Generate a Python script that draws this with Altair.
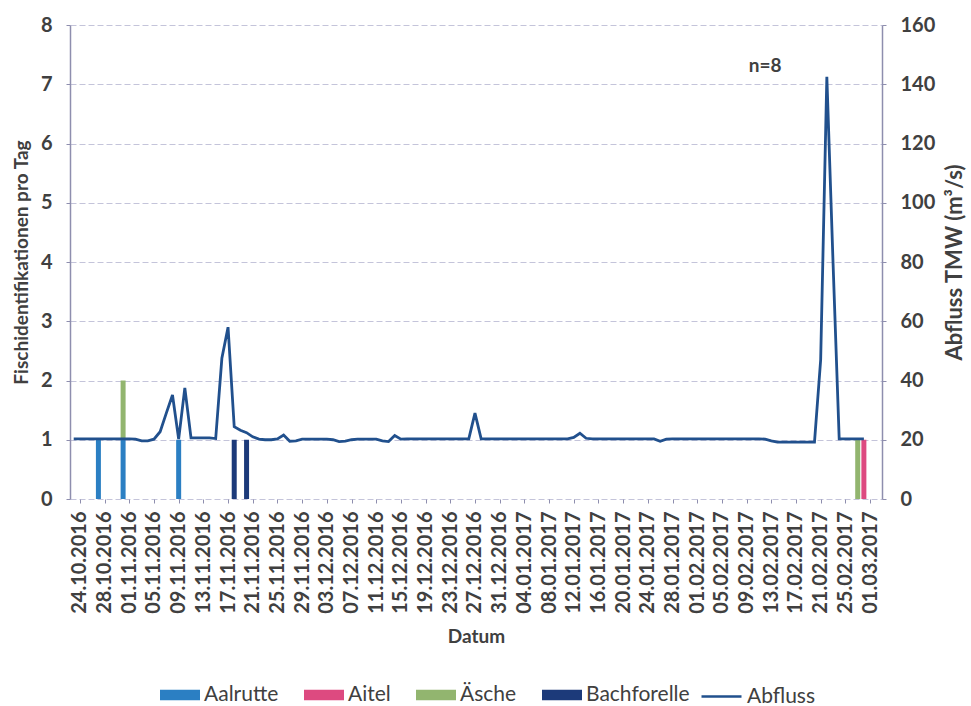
from datetime import date, datetime, timedelta, timezone

import altair as alt
import pandas as pd

FONT = "Lato"
TEXT = "#404040"
AXIS_COLOR = "#8e8eae"
GRID_COLOR = "#c4c4da"

# Fish identifications per day and species
fish_dates = ["2016-10-27", "2016-10-31", "2016-10-31", "2016-11-09",
              "2016-11-18", "2016-11-20", "2017-02-27", "2017-02-28"]
fish_species = ["Aalrutte", "Aalrutte", "Äsche", "Aalrutte",
                "Bachforelle", "Bachforelle", "Äsche", "Aitel"]
fish_counts = [1, 1, 1, 1, 1, 1, 1, 1]

species_order = ["Aalrutte", "Aitel", "Äsche", "Bachforelle"]
species_colors = ["#2b7fc3", "#dd4a80", "#92b56f", "#1c3a7a"]

# Daily mean discharge (m³/s), 23.10.2016 - 28.02.2017
flow_start = date(2016, 10, 23)
flow_values = [
    # Oct 23-31
    20.3, 20.3, 20.3, 20.3, 20.3, 20.3, 20.3, 20.3, 20.3,
    # Nov
    20.3, 20.2, 19.6, 19.6, 20.2, 22.7, 29.0, 35.1, 20.2, 37.5,
    20.6, 20.6, 20.6, 20.6, 20.4, 47.5, 58.0, 24.4, 23.2, 22.4,
    21.0, 20.2, 20.0, 20.0, 20.3, 21.6, 19.5, 19.6, 20.2, 20.2,
    # Dec
    20.2, 20.2, 20.2, 20.0, 19.4, 19.5, 20.0, 20.2, 20.2, 20.2,
    20.2, 19.6, 19.4, 21.4, 20.2, 20.3, 20.3, 20.3, 20.3, 20.3,
    20.3, 20.3, 20.3, 20.3, 20.3, 20.3, 29.0, 20.3, 20.3, 20.3, 20.3,
    # Jan
    20.3, 20.3, 20.3, 20.3, 20.3, 20.3, 20.3, 20.3, 20.3, 20.3,
    20.3, 20.8, 22.2, 20.5, 20.3, 20.3, 20.3, 20.3, 20.3, 20.3,
    20.3, 20.3, 20.3, 20.3, 20.3, 19.5, 20.2, 20.3, 20.3, 20.3, 20.3,
    # Feb
    20.3, 20.3, 20.3, 20.3, 20.3, 20.3, 20.3, 20.3, 20.3, 20.3,
    20.3, 20.2, 19.6, 19.2, 19.2, 19.2, 19.2, 19.2, 19.2, 19.2,
    47.0, 142.5, 80.0, 20.3, 20.3, 20.3, 20.3, 20.3,
]
flow_color = "#21508d"

x_tick_labels = [
    "24.10.2016", "28.10.2016", "01.11.2016", "05.11.2016", "09.11.2016",
    "13.11.2016", "17.11.2016", "21.11.2016", "25.11.2016", "29.11.2016",
    "03.12.2016", "07.12.2016", "11.12.2016", "15.12.2016", "19.12.2016",
    "23.12.2016", "27.12.2016", "31.12.2016", "04.01.2017", "08.01.2017",
    "12.01.2017", "16.01.2017", "20.01.2017", "24.01.2017", "28.01.2017",
    "01.02.2017", "05.02.2017", "09.02.2017", "13.02.2017", "17.02.2017",
    "21.02.2017", "25.02.2017", "01.03.2017",
]
left_ticks = [0, 1, 2, 3, 4, 5, 6, 7, 8]
right_ticks = [0, 20, 40, 60, 80, 100, 120, 140, 160]

annotation_date = "2017-02-12"
annotation_y = 7.3
annotation_text = "n=8"


def utc_ms(text, fmt):
    return datetime.strptime(text, fmt).replace(tzinfo=timezone.utc).timestamp() * 1000


x_values = [utc_ms(t, "%d.%m.%Y") for t in x_tick_labels]
x_domain = [utc_ms("2016-10-23T05:00", "%Y-%m-%dT%H:%M"),
            utc_ms("2017-03-02T03:00", "%Y-%m-%dT%H:%M")]

fish_df = pd.DataFrame({
    "date": fish_dates,
    "species": fish_species,
    "count": fish_counts,
    "rank": [species_order.index(s) if s != "Äsche" else 0.5 for s in fish_species],
})
flow_df = pd.DataFrame({
    "date": [(flow_start + timedelta(days=i)).isoformat() for i in range(len(flow_values))],
    "abfluss": flow_values,
    "serie": "Abfluss",
})
note_df = pd.DataFrame({"date": [annotation_date], "y": [annotation_y], "text": [annotation_text]})

x_scale = alt.Scale(type="utc", domain=x_domain, nice=False)
x_axis = alt.Axis(
    values=x_values, labelExpr="utcFormat(datum.value, '%d.%m.%Y')", labelAngle=270,
    labelFont=FONT, labelFontSize=20, labelFontWeight="bold", labelColor=TEXT,
    labelPadding=8, labelOverlap=False, domain=False, grid=False,
    ticks=True, tickSize=4, tickColor=AXIS_COLOR,
    title="Datum", titleFont=FONT, titleFontSize=19, titleFontWeight="bold",
    titleColor=TEXT, titlePadding=14,
)
left_axis = alt.Axis(
    values=left_ticks, grid=True, gridColor=GRID_COLOR, gridDash=[6, 3],
    domainColor=AXIS_COLOR, domainWidth=1.5, tickColor=AXIS_COLOR, tickSize=4,
    labelFont=FONT, labelFontSize=20, labelFontWeight="bold", labelColor=TEXT,
    labelPadding=14,
    title="Fischidentifikationen pro Tag", titleFont=FONT, titleFontSize=19,
    titleFontWeight="bold", titleColor=TEXT, titlePadding=9,
)
right_axis = alt.Axis(
    values=right_ticks, orient="right", grid=False,
    domainColor=AXIS_COLOR, domainWidth=1.5, tickColor=AXIS_COLOR, tickSize=4,
    labelFont=FONT, labelFontSize=20, labelFontWeight="bold", labelColor=TEXT,
    labelPadding=14,
    title="Abfluss TMW (m³/s)", titleFont=FONT, titleFontSize=22,
    titleFontWeight="bold", titleColor=TEXT, titlePadding=10,
    titleAngle=270, titleBaseline="top",
)

bars = alt.Chart(fish_df).mark_bar(size=5).encode(
    x=alt.X("date:T", scale=x_scale, axis=x_axis, title="Datum"),
    y=alt.Y("count:Q", stack="zero", scale=alt.Scale(domain=[0, 8]), axis=left_axis),
    color=alt.Color(
        "species:N",
        scale=alt.Scale(domain=species_order, range=species_colors),
        legend=alt.Legend(
            orient="none", legendX=90, legendY=650, direction="horizontal",
            columns=4, title=None, symbolType="M-1,-0.26H1V0.26H-1Z",
            symbolSize=1600, symbolStrokeWidth=0, labelFont=FONT,
            labelFontSize=21, labelColor=TEXT, labelOffset=4, columnPadding=25,
        ),
    ),
    order=alt.Order("rank:Q"),
)

note = alt.Chart(note_df).mark_text(
    font=FONT, fontSize=19, fontWeight="bold", color=TEXT
).encode(
    x=alt.X("date:T", scale=x_scale, axis=x_axis, title="Datum"),
    y=alt.Y("y:Q", scale=alt.Scale(domain=[0, 8]), axis=left_axis),
    text="text:N",
)

line = alt.Chart(flow_df).mark_line(strokeWidth=2.8).encode(
    x=alt.X("date:T", scale=x_scale, axis=x_axis, title="Datum"),
    y=alt.Y("abfluss:Q", scale=alt.Scale(domain=[0, 160]), axis=right_axis),
    color=alt.Color(
        "serie:N",
        scale=alt.Scale(domain=["Abfluss"], range=[flow_color]),
        legend=alt.Legend(
            orient="none", legendX=630, legendY=650, title=None,
            symbolType="stroke", symbolSize=1600, symbolStrokeWidth=2.5,
            labelFont=FONT, labelFontSize=21, labelColor=TEXT, labelOffset=4,
        ),
    ),
)

chart = alt.layer(alt.layer(bars, note), line).resolve_scale(
    y="independent", color="independent"
).properties(
    width=812, height=474,
    padding={"left": 70, "top": 25, "right": 89, "bottom": 207},
    autosize=alt.AutoSizeParams(type="none"),
    background="white",
).configure_view(strokeWidth=0)

chart.save("out.html", embed_options={"renderer": "svg", "actions": False})
